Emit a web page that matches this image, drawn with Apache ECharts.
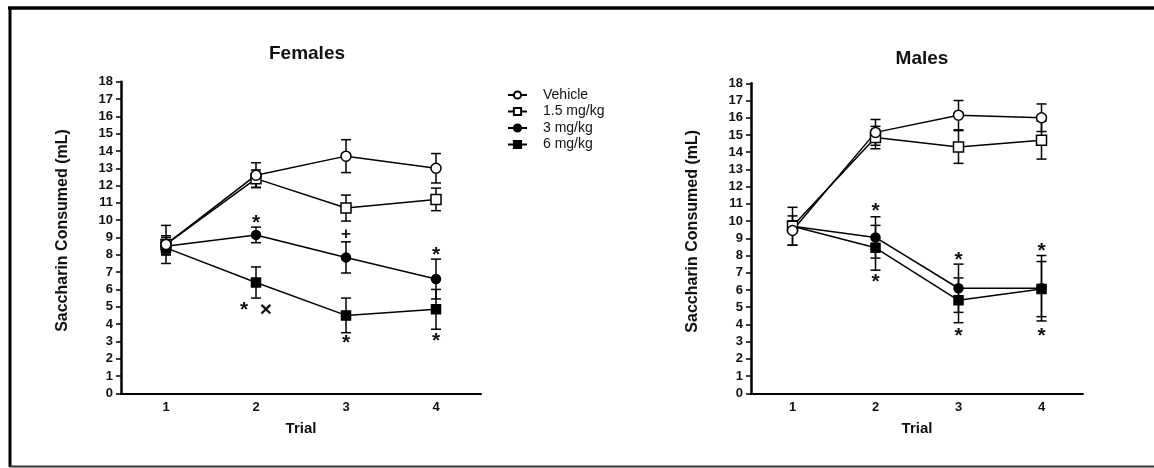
<!DOCTYPE html>
<html>
<head>
<meta charset="utf-8">
<script src="https://cdn.jsdelivr.net/npm/echarts@6/dist/echarts.min.js"></script>
<style>
html,body{margin:0;padding:0;background:#fff;}
#chart{width:1154px;height:468px;}
</style>
</head>
<body>
<div id="chart"></div>
<script>
// ---- data ----
const trials = ['1', '2', '3', '4'];
const yTicks = [0, 18, 1]; // min, max, step

const femVehicle = [8.6, 12.6, 13.7, 13.0];
const femVehicleErr = [0.5, 0.72, 0.95, 0.85];
const fem15 = [8.6, 12.4, 10.7, 11.2];
const fem15Err = [1.1, 0.5, 0.75, 0.65];
const fem3 = [8.5, 9.15, 7.85, 6.6];
const fem3Err = [0.5, 0.45, 0.9, 1.15];
const fem6 = [8.4, 6.4, 4.5, 4.85];
const fem6Err = [0.4, 0.9, 1.0, 1.15];

const maleVehicle = [9.45, 15.15, 16.15, 16.0];
const maleVehicleErr = [0.85, 0.75, 0.85, 0.8];
const male15 = [9.7, 14.85, 14.3, 14.7];
const male15Err = [1.1, 0.65, 0.95, 1.1];
const male3 = [9.7, 9.05, 6.1, 6.1];
const male3Err = [0.3, 1.2, 1.4, 1.9];
const male6 = [9.7, 8.45, 5.4, 6.05];
const male6Err = [0.3, 1.3, 1.3, 1.6];

// significance marks: [trial index, value, mark]
const femMarks = [[1, 10.1, '*'], [2, 9.2, '+'], [3, 8.25, '*'], [1, 5.1, '*  \u00d7'], [2, 3.2, '*'], [3, 3.3, '*']];
const maleMarks = [[1, 10.87, '*'], [1, 6.73, '*'], [2, 8.03, '*'], [2, 3.63, '*'], [3, 8.55, '*'], [3, 3.63, '*']];

const seriesNames = ['Vehicle', '1.5 mg/kg', '3 mg/kg', '6 mg/kg'];

// ---- chart ----
const FONT = '"Liberation Sans", Arial, sans-serif';
const styles = [
  { symbol: 'circle', fill: '#fff' },
  { symbol: 'rect', fill: '#fff' },
  { symbol: 'circle', fill: '#000' },
  { symbol: 'rect', fill: '#000' }
];

function errData(vals, errs) {
  return vals.map((v, i) => [i, v - errs[i], v + errs[i]]);
}

function errSeries(vals, errs, gi) {
  return {
    type: 'custom', xAxisIndex: gi, yAxisIndex: gi, z: 1, silent: true,
    data: errData(vals, errs),
    encode: { x: 0, y: [1, 2] },
    renderItem: function (params, api) {
      const lo = api.coord([api.value(0), api.value(1)]);
      const hi = api.coord([api.value(0), api.value(2)]);
      const w = 5;
      const st = { stroke: '#000', lineWidth: 1.5 };
      return {
        type: 'group', children: [
          { type: 'line', shape: { x1: lo[0], y1: lo[1], x2: hi[0], y2: hi[1] }, style: st },
          { type: 'line', shape: { x1: lo[0] - w, y1: lo[1], x2: lo[0] + w, y2: lo[1] }, style: st },
          { type: 'line', shape: { x1: hi[0] - w, y1: hi[1], x2: hi[0] + w, y2: hi[1] }, style: st }
        ]
      };
    }
  };
}

function lineSeries(name, vals, k, gi) {
  return {
    name: name, type: 'line', xAxisIndex: gi, yAxisIndex: gi, z: 3,
    data: vals, symbol: styles[k].symbol, symbolSize: k < 2 ? 10 : 9,
    showAllSymbol: true,
    lineStyle: { color: '#000', width: 1.5 },
    itemStyle: { color: styles[k].fill, borderColor: '#000', borderWidth: 1.5 },
    emphasis: { disabled: true }, animation: false
  };
}

function markSeries(marks, gi) {
  return {
    type: 'custom', xAxisIndex: gi, yAxisIndex: gi, z: 4, silent: true,
    data: marks.map(m => [m[0], m[1]]),
    encode: { x: 0, y: 1 },
    renderItem: function (params, api) {
      const p = api.coord([api.value(0), api.value(1)]);
      const txt = marks[params.dataIndex][2];
      const isStar = txt.indexOf('*') === 0;
      return {
        type: 'text', x: p[0], y: p[1] + (isStar ? 5 : 0),
        style: {
          text: txt, fill: '#111',
          font: (isStar ? 'bold 21px ' : 'bold 17px ') + FONT,
          align: 'center', verticalAlign: 'middle',
          textAlign: 'center', textVerticalAlign: 'middle'
        }
      };
    }
  };
}

function xAxis(gi) {
  return {
    type: 'category', gridIndex: gi, data: trials, boundaryGap: true,
    name: 'Trial', nameLocation: 'middle', nameGap: 28,
    nameTextStyle: { fontFamily: FONT, fontWeight: 'bold', fontSize: 15, color: '#111' },
    axisLine: { lineStyle: { color: '#000', width: 2 } },
    axisTick: { alignWithLabel: true, length: 5, lineStyle: { color: '#000', width: 1.5 } },
    axisLabel: { margin: 8, fontFamily: FONT, fontWeight: 'bold', fontSize: 13, color: '#111' },
    splitLine: { show: false }
  };
}

function yAxis(gi) {
  return {
    type: 'value', gridIndex: gi, min: yTicks[0], max: yTicks[1], interval: yTicks[2],
    name: 'Saccharin Consumed (mL)', nameLocation: 'middle', nameRotate: 90, nameGap: 50,
    nameTextStyle: { fontFamily: FONT, fontWeight: 'bold', fontSize: 16, color: '#111', padding: [0, 0, 0, 14] },
    axisLine: { show: true, lineStyle: { color: '#000', width: 2.5 } },
    axisTick: { show: true, length: 5, lineStyle: { color: '#000', width: 1.5 } },
    axisLabel: { margin: 8, fontFamily: FONT, fontWeight: 'bold', fontSize: 13, color: '#111' },
    splitLine: { show: false }
  };
}

const femSets = [[femVehicle, femVehicleErr], [fem15, fem15Err], [fem3, fem3Err], [fem6, fem6Err]];
const maleSets = [[maleVehicle, maleVehicleErr], [male15, male15Err], [male3, male3Err], [male6, male6Err]];

const series = [];
[femSets, maleSets].forEach((sets, gi) => {
  sets.forEach((s, k) => series.push(errSeries(s[0], s[1], gi)));
  // draw higher doses first so the vehicle markers sit on top
  [3, 2, 1, 0].forEach(k => series.push(lineSeries(seriesNames[k], sets[k][0], k, gi)));
});
series.push(markSeries(femMarks, 0));
series.push(markSeries(maleMarks, 1));

const chart = echarts.init(document.getElementById('chart'), null, { renderer: 'canvas' });
chart.setOption({
  backgroundColor: '#fff',
  animation: false,
  title: [
    { text: 'Females', left: 302, top: 39, textAlign: 'center',
      textStyle: { fontFamily: FONT, fontWeight: 'bold', fontSize: 19, color: '#111' } },
    { text: 'Males', left: 917, top: 44, textAlign: 'center',
      textStyle: { fontFamily: FONT, fontWeight: 'bold', fontSize: 19, color: '#111' } }
  ],
  legend: {
    data: seriesNames, orient: 'vertical', left: 502, top: 83,
    itemWidth: 19, itemHeight: 9, itemGap: 2.5,
    textStyle: { fontFamily: FONT, fontSize: 14, color: '#111', padding: [0, 0, 0, 11] },
    selectedMode: false
  },
  grid: [
    { left: 121, right: 673, top: 81.7, bottom: 74.7 },
    { left: 751, right: 71, top: 83.3, bottom: 74.7 }
  ],
  xAxis: [xAxis(0), xAxis(1)],
  yAxis: [yAxis(0), yAxis(1)],
  series: series,
  graphic: [
    { type: 'line', shape: { x1: 8, y1: 8, x2: 1154, y2: 8 }, style: { stroke: '#000', lineWidth: 3.5 }, z: 100 },
    { type: 'line', shape: { x1: 10, y1: 7, x2: 10, y2: 467 }, style: { stroke: '#000', lineWidth: 3 }, z: 100 },
    { type: 'line', shape: { x1: 9, y1: 466.5, x2: 1154, y2: 466.5 }, style: { stroke: '#333', lineWidth: 2 }, z: 100 }
  ]
});
</script>
</body>
</html>
